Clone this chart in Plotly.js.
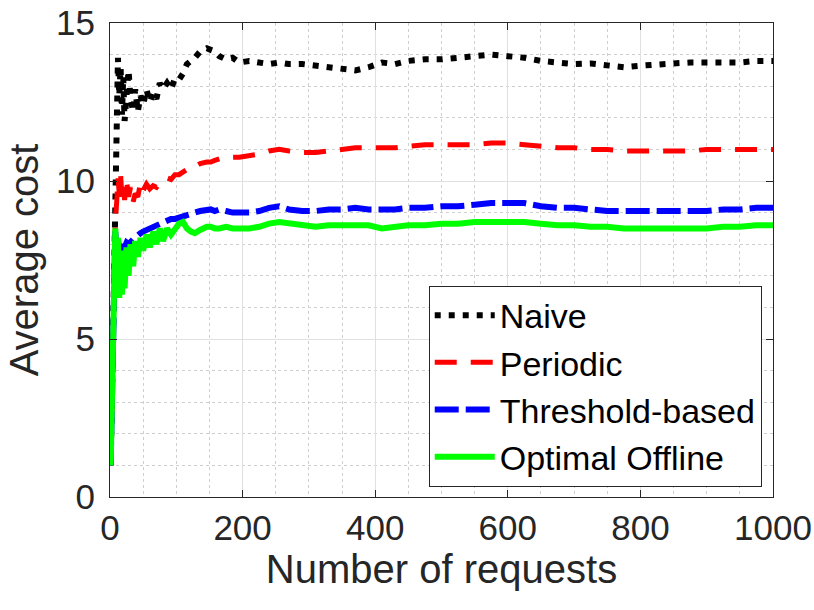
<!DOCTYPE html>
<html>
<head>
<meta charset="utf-8">
<script src="https://cdn.plot.ly/plotly-3.0.1.min.js"></script>
<style>
  html, body { margin: 0; padding: 0; background: #fff; }
  #plot { width: 814px; height: 610px; }
</style>
</head>
<body>
<div id="plot"></div>
<script>
// number of requests (shared x samples)
var requests = [1,2,3,4,5,6,8,10,12,14, 16,18,20,22,25,28,31,35,38,42,
    46,50,55,60,65,70,75,80,86,92, 98,104,110,116,122,128,136,146,152,158,
    165,175,185,195,210,225,240,255,270,290, 310,330,350,370,390,410,430,450,475,500,
    525,550,575,600,625,650,675,700,725,750, 775,800,825,850,875,900,925,950,975,1000];

// average cost
var naive = [1.0,2.2,3.5,4.8,6.0,7.3,9.5,13.0,13.9,12.7, 13.6,12.1,13.3,11.9,13.0,13.5,12.6,12.2,12.9,12.2,
    12.7,12.4,12.9,12.5,12.8,12.6,13.1,12.9,13.1,12.9, 13.25,13.2,13.4,13.7,13.8,13.9,14.1,14.2,14.15,14.1,
    13.95,13.85,13.9,13.75,13.8,13.75,13.7,13.75,13.7,13.7, 13.65,13.6,13.55,13.5,13.6,13.75,13.7,13.8,13.85,13.85,
    13.9,13.95,14.0,13.95,13.9,13.8,13.75,13.7,13.72,13.68, 13.6,13.65,13.7,13.72,13.75,13.75,13.78,13.75,13.8,13.8];

var periodic = [1.0,2.2,3.5,4.8,6.0,7.3,8.8,9.3,10.1,9.6, 10.2,9.5,9.9,9.4,10.0,9.5,9.8,9.35,9.6,9.5,
    9.95,9.7,9.9,9.75,9.85,9.8,9.95,10.0,10.1,10.05, 10.2,10.2,10.3,10.35,10.45,10.45,10.55,10.6,10.6,10.65,
    10.7,10.7,10.75,10.75,10.8,10.85,10.95,11.0,10.95,10.9, 10.9,10.95,11.0,11.05,11.05,11.05,11.05,11.1,11.15,11.15,
    11.15,11.15,11.2,11.2,11.15,11.1,11.05,11.05,11.0,11.0, 10.95,10.95,10.95,10.95,10.95,11.0,11.0,11.0,11.0,11.0];

var threshold = [1.0,2.2,3.5,4.8,6.0,7.3,8.4,7.6,8.2,7.7, 8.0,7.8,8.0,7.9,8.05,8.0,8.1,8.15,8.2,8.3,
    8.35,8.4,8.45,8.5,8.55,8.6,8.65,8.7,8.75,8.8, 8.8,8.85,8.9,8.95,9.0,9.0,9.05,9.1,9.1,9.05,
    9.1,9.05,9.0,9.0,9.0,9.05,9.15,9.2,9.1,9.05, 9.05,9.1,9.1,9.15,9.1,9.1,9.1,9.15,9.15,9.2,
    9.2,9.25,9.3,9.3,9.3,9.2,9.15,9.15,9.1,9.05, 9.05,9.05,9.05,9.05,9.05,9.05,9.1,9.1,9.15,9.15];

var optimal = [1.0,2.2,3.4,4.6,5.8,7.0,8.5,7.0,8.2,6.3, 7.8,6.4,7.6,6.6,7.9,7.0,8.0,7.3,8.1,7.6,
    8.2,7.8,8.3,7.9,8.4,8.0,8.5,8.1,8.5,8.3, 8.5,8.65,8.7,8.5,8.4,8.35,8.45,8.55,8.55,8.5,
    8.5,8.55,8.5,8.5,8.5,8.55,8.65,8.7,8.65,8.6, 8.55,8.6,8.6,8.6,8.6,8.5,8.55,8.6,8.6,8.65,
    8.65,8.7,8.7,8.7,8.7,8.65,8.6,8.6,8.55,8.55, 8.5,8.5,8.5,8.5,8.5,8.5,8.55,8.55,8.6,8.6];

var font = "'Liberation Sans', Arial, Helvetica, sans-serif";
var axisColor = '#262626';

var plot_data = [
    {x: requests, y: naive, name: 'Naive', mode: 'lines', type: 'scatter',
     line: {color: '#000000', width: 6, dash: '6px,8px'}},
    {x: requests, y: periodic, name: 'Periodic', mode: 'lines', type: 'scatter',
     line: {color: '#ff0000', width: 5, dash: '22px,14px'}},
    {x: requests, y: threshold, name: 'Threshold-based', mode: 'lines', type: 'scatter',
     line: {color: '#0000ff', width: 6, dash: '24px,7px'}},
    {x: requests, y: optimal, name: 'Optimal Offline', mode: 'lines', type: 'scatter',
     line: {color: '#00ff00', width: 6}}
];

var layout = {
    width: 814,
    height: 610,
    margin: {l: 110, r: 41, t: 23, b: 113},
    paper_bgcolor: '#ffffff',
    plot_bgcolor: '#ffffff',
    font: {family: font, color: axisColor},
    showlegend: true,
    legend: {
        x: 0.983, y: 0.022, xanchor: 'right', yanchor: 'bottom',
        bgcolor: '#ffffff', bordercolor: axisColor, borderwidth: 1,
        font: {family: font, size: 34, color: '#000000'},
        itemwidth: 60,
        tracegroupgap: 0
    },
    xaxis: {
        range: [0, 1000],
        tickvals: [0, 200, 400, 600, 800, 1000],
        ticks: 'inside', ticklen: 7, tickcolor: axisColor,
        showline: true, linecolor: axisColor, linewidth: 1, mirror: 'ticks',
        showgrid: true, gridcolor: '#e0e0e0', gridwidth: 1,
        zeroline: false,
        tickfont: {family: font, size: 35, color: axisColor},
        minor: {dtick: 50, showgrid: true, gridcolor: '#cfcfcf', griddash: 'dot', ticks: ''},
        title: {text: 'Number of requests', font: {family: font, size: 40, color: axisColor}, standoff: 6}
    },
    yaxis: {
        range: [0, 15],
        tickvals: [0, 5, 10, 15],
        ticks: 'inside', ticklen: 7, tickcolor: axisColor,
        showline: true, linecolor: axisColor, linewidth: 1, mirror: 'ticks',
        showgrid: true, gridcolor: '#e0e0e0', gridwidth: 1,
        zeroline: false,
        ticklabelstandoff: 7,
        tickfont: {family: font, size: 35, color: axisColor},
        minor: {dtick: 1, showgrid: true, gridcolor: '#cfcfcf', griddash: 'dot', ticks: ''},
        title: {text: 'Average cost', font: {family: font, size: 40, color: axisColor}, standoff: 5}
    }
};

var config = {staticPlot: true};
Plotly.newPlot(document.getElementById('plot'), plot_data, layout, config);
</script>
</body>
</html>
